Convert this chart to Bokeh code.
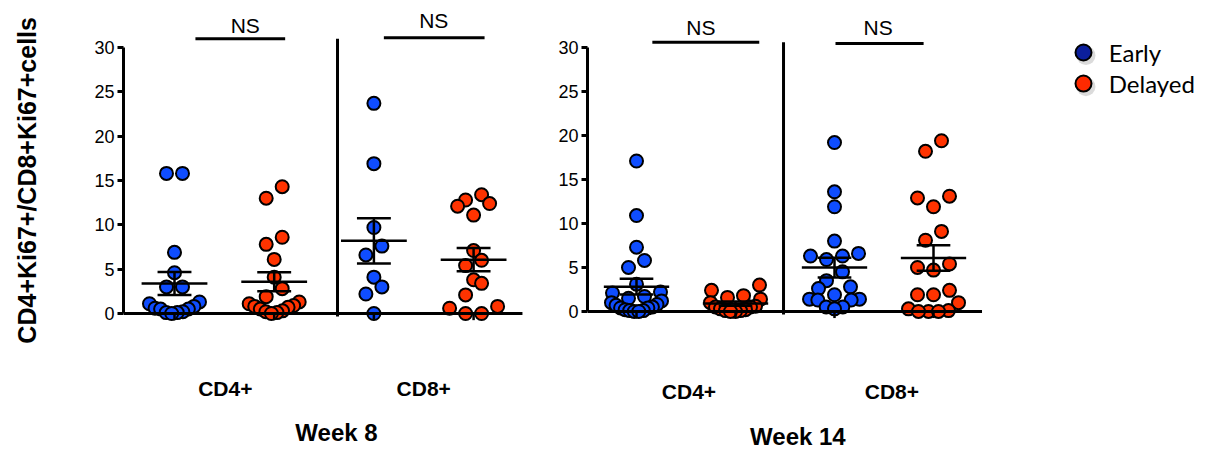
import math
import numpy as np
from bokeh.plotting import figure
from bokeh.layouts import row
from bokeh.models import Range1d, FixedTicker
from bokeh.core.properties import value
from bokeh.embed import file_html
from bokeh.resources import INLINE

# ---------------- data ----------------
series_names = ["Early", "Delayed"]
subsets = ["CD4+", "CD8+"]
weeks = ["Week 8", "Week 14"]
y_ticks = [0, 5, 10, 15, 20, 25, 30]
sig_labels = ["NS", "NS"]
y_title = "CD4+Ki67+/CD8+Ki67+cells"

w8_cd4_early = [15.8, 15.8, 6.9, 4.6, 3.0, 3.0, 1.3, 1.1, 0.8, 0.6, 0.5, 0.5, 0.2, 0.1, 0.1, 0.0]
w8_cd4_delayed = [14.3, 13.0, 8.6, 7.8, 6.1, 4.1, 2.8, 1.9, 1.3, 1.1, 0.9, 0.8, 0.7, 0.5, 0.3, 0.2, 0.1, 0.0]
w8_cd8_early = [23.7, 16.9, 9.7, 7.6, 6.6, 4.1, 3.0, 2.2, 0.0]
w8_cd8_delayed = [13.4, 12.8, 12.4, 12.1, 11.1, 7.1, 6.0, 5.4, 3.8, 3.4, 2.1, 0.8, 0.6, 0.0, 0.0]

w14_cd4_early = [17.1, 10.9, 7.3, 5.8, 5.0, 3.1, 2.2, 2.1, 1.7, 1.5, 1.2, 1.0, 0.8, 0.7, 0.5, 0.4, 0.4, 0.2, 0.1, 0.1, 0.0, 0.0]
w14_cd4_delayed = [3.0, 2.4, 1.8, 1.6, 1.4, 1.0, 0.6, 0.5, 0.5, 0.3, 0.2, 0.1, 0.1, 0.0, 0.0]
w14_cd8_early = [19.2, 13.6, 11.9, 8.0, 6.6, 6.3, 6.3, 5.9, 4.5, 3.5, 2.8, 2.6, 1.9, 1.4, 1.4, 1.3, 1.3, 0.5, 0.5, 0.3]
w14_cd8_delayed = [19.4, 18.2, 13.1, 12.9, 11.9, 9.1, 8.1, 5.4, 5.0, 4.7, 2.4, 1.9, 1.9, 1.0, 0.3, 0.1, 0.0, 0.0, 0.0]

# ---------------- styles ----------------
BLUE = "#0f4dff"
RED = "#ff3300"
LEG_BLUE = "#0c1f9c"
LEG_RED = "#ff2a00"
FONT = value("Liberation Sans")


def swarm(vals, ppx, ppy, bin_px=13.0, step_px=16.0, max_half=25.0):
    """Binned scatter layout (like a column scatter plot): points within one
    marker height share a row and are spread symmetrically around the centre."""
    order = sorted(range(len(vals)), key=lambda i: vals[i])
    out = [0.0] * len(vals)
    bins, cur, start = [], [], None
    for i in order:
        ypx = vals[i] * ppy
        if start is None or ypx - start > bin_px:
            if cur:
                bins.append(cur)
            cur, start = [i], ypx
        else:
            cur.append(i)
    if cur:
        bins.append(cur)
    for b in bins:
        n = len(b)
        if n == 1:
            continue
        step = min(step_px, 2 * max_half / (n - 1))
        offs = [(k - (n - 1) / 2) * step for k in range(n)]
        offs_sorted = sorted(offs, key=lambda o: (abs(o), o))
        for idx, o in zip(b, offs_sorted):
            out[idx] = o / ppx
    return out


def make_panel(width, left, xr, yr, ppx, ppy, groups, layout, ylabel=None):
    p = figure(width=width, height=450, x_range=Range1d(*xr), y_range=Range1d(*yr),
               output_backend="svg", toolbar_location=None, x_axis_location=None,
               min_border_left=left, min_border_right=0, min_border_top=0, min_border_bottom=0,
               outline_line_color=None)
    p.grid.visible = False
    ax = p.yaxis[0]
    ax.bounds = (0, 30)
    ax.ticker = FixedTicker(ticks=y_ticks)
    ax.minor_tick_line_color = None
    ax.major_tick_out = 6
    ax.major_tick_in = 0
    ax.axis_line_width = 3
    ax.major_tick_line_width = 3
    ax.major_label_standoff = 3
    ax.major_label_text_font = "Liberation Sans"
    ax.major_label_text_font_size = "18px"
    ax.major_label_text_color = "black"
    if ylabel:
        # leading non-breaking spaces shift the centred rotated label upwards
        ax.axis_label = "\u00a0" * 13 + ylabel
        ax.axis_label_text_font = "Liberation Sans"
        ax.axis_label_text_font_style = "bold"
        ax.axis_label_text_font_size = "25px"
        ax.axis_label_text_color = "black"
        ax.axis_label_standoff = 50

    xs_pos = [1, 2, 3, 4]
    colors = [BLUE, RED, BLUE, RED]
    for xp, vals, col in zip(xs_pos, groups, colors):
        offs = swarm(vals, ppx, ppy)
        p.scatter(x=[xp + o for o in offs], y=vals, size=13, fill_color=col,
                  line_color="black", line_width=2)
    # mean +/- SEM
    hx0, hx1, hy0, hy1 = [], [], [], []
    for xp, vals in zip(xs_pos, groups):
        a = np.array(vals)
        m = a.mean()
        s = a.std(ddof=1) / math.sqrt(len(a))
        hx0 += [xp - 0.33, xp - 0.17, xp - 0.17, xp]
        hx1 += [xp + 0.33, xp + 0.17, xp + 0.17, xp]
        hy0 += [m, m + s, m - s, m - s]
        hy1 += [m, m + s, m - s, m + s]
    p.segment(x0=hx0, y0=hy0, x1=hx1, y1=hy1, line_color="black", line_width=2.5)

    # baseline, ticks, separator
    p.segment(x0=[layout["base"][0]], y0=[0], x1=[layout["base"][1]], y1=[0],
              line_color="black", line_width=3)
    p.segment(x0=xs_pos, y0=[0] * 4, x1=xs_pos, y1=[-0.75] * 4, line_color="black", line_width=2.5)
    p.segment(x0=[layout["sep"]], y0=[-0.35], x1=[layout["sep"]], y1=[layout["sep_top"]],
              line_color="black", line_width=3)
    # NS brackets
    br = layout["brackets"]
    p.segment(x0=[b[0] for b in br], y0=[b[2] for b in br], x1=[b[1] for b in br],
              y1=[b[2] for b in br], line_color="black", line_width=3)
    p.text(x=[b[3] for b in br], y=[b[4] for b in br], text=sig_labels, text_font=FONT,
           text_font_size="21px", text_align="center", text_baseline="middle", text_color="black")
    # subset labels and week label
    p.text(x=layout["sub_x"], y=[layout["sub_y"]] * 2, text=subsets, text_font=FONT,
           text_font_size="21px", text_font_style="bold", text_align="center",
           text_baseline="middle", text_color="black")
    p.text(x=[layout["week_x"]], y=[layout["week_y"]], text=[layout["week"]], text_font=FONT,
           text_font_size="24px", text_font_style="bold", text_align="center",
           text_baseline="middle", text_color="black")
    return p


ppx1, ppy1 = 99.7, 8.867
pA = make_panel(540, 123, (0.4885, 0.4885 + 417 / ppx1), (-15.45, 35.3), ppx1, ppy1,
                [w8_cd4_early, w8_cd4_delayed, w8_cd8_early, w8_cd8_delayed],
                dict(base=(0.49, 4.49), sep=2.635, sep_top=31.0,
                     brackets=[(1.21, 2.11, 31.0, 1.71, 32.5), (3.10, 4.11, 31.1, 3.60, 33.0)],
                     sub_x=[1.51, 3.50], sub_y=-8.46, week=weeks[0], week_x=2.625, week_y=-13.4),
                ylabel=y_title)

ppx2, ppy2 = 99.0, 8.8
pB = make_panel(674, 47, (0.505, 0.505 + 627 / ppx2), (-15.8, 35.34), ppx2, ppy2,
                [w14_cd4_early, w14_cd4_delayed, w14_cd8_early, w14_cd8_delayed],
                dict(base=(0.505, 4.49), sep=2.485, sep_top=30.6,
                     brackets=[(1.16, 2.24, 30.6, 1.65, 32.3), (3.01, 3.90, 30.45, 3.44, 32.3)],
                     sub_x=[1.53, 3.58], sub_y=-9.09, week=weeks[1], week_x=2.63, week_y=-14.2))

# legend (custom, in panel B data space)
leg_x, leg_tx = 5.515, 5.77
leg_y = [29.43, 25.9]
pB.scatter(x=[leg_x + 0.025] * 2, y=[v - 0.35 for v in leg_y], size=19, fill_color="#999999",
           fill_alpha=0.35, line_color=None)
pB.scatter(x=[leg_x] * 2, y=leg_y, size=16, fill_color=[LEG_BLUE, LEG_RED], line_color="black",
           line_width=2)
pB.text(x=[leg_tx] * 2, y=leg_y, text=series_names, text_font=value("Lato"), text_font_size="24px",
        text_align="left", text_baseline="middle", text_color="black")

layout = row(pA, pB)
open("out.html", "w").write(file_html(layout, INLINE))
